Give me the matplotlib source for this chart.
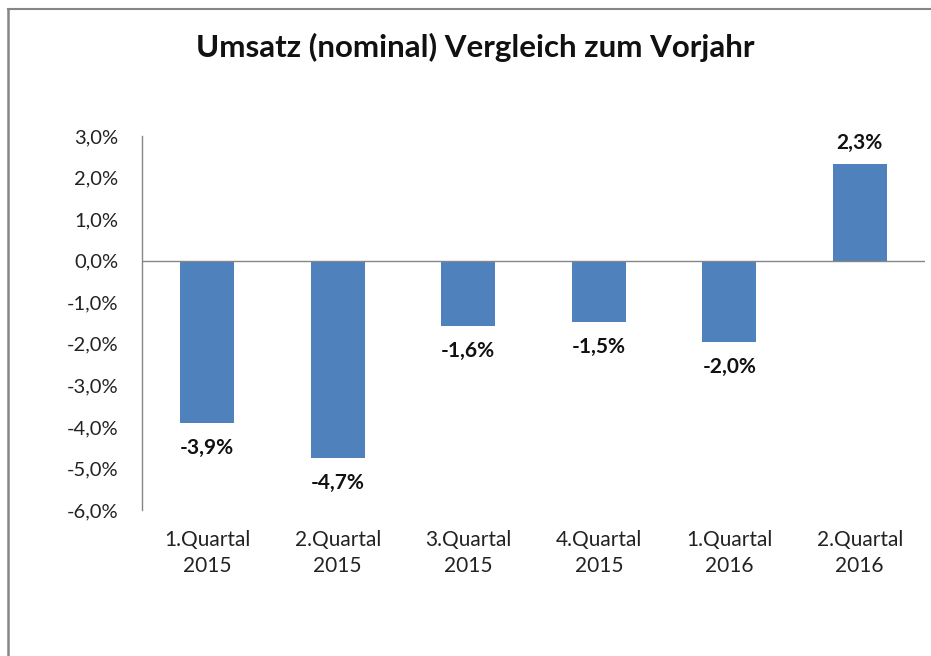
import matplotlib
matplotlib.use("Agg")
import matplotlib.pyplot as plt
from matplotlib.lines import Line2D

plt.rcParams['font.family'] = ['Lato', 'DejaVu Sans']

title = "Umsatz (nominal) Vergleich zum Vorjahr"
categories = ["1.Quartal\n2015", "2.Quartal\n2015", "3.Quartal\n2015",
              "4.Quartal\n2015", "1.Quartal\n2016", "2.Quartal\n2016"]
values = [-3.9, -4.74, -1.58, -1.48, -1.96, 2.32]
yticks = [3, 2, 1, 0, -1, -2, -3, -4, -5, -6]

W, H = 931, 656
fig = plt.figure(figsize=(W / 100, H / 100), dpi=100)
fig.patch.set_facecolor('white')

# outer frame (left + top)
fig.add_artist(Line2D([8 / W, 8 / W], [0, 1 - 9 / H], transform=fig.transFigure,
                      color='#868686', lw=1.8))
fig.add_artist(Line2D([8 / W, 1], [1 - 9 / H, 1 - 9 / H], transform=fig.transFigure,
                      color='#868686', lw=1.5))

left, right, top, bottom = 142, 925, 136, 510
ax = fig.add_axes([left / W, 1 - bottom / H, (right - left) / W, (bottom - top) / H])

x = list(range(len(values)))
ax.bar(x, values, width=0.41, color='#4F81BD', zorder=2)
ax.set_xlim(-0.5, len(values) - 0.5)
ax.set_ylim(-6, 3)
ax.axhline(0, color='#868686', lw=1.0, zorder=3)

for s in ['top', 'right', 'bottom']:
    ax.spines[s].set_visible(False)
ax.spines['left'].set_color('#868686')
ax.spines['left'].set_linewidth(1.0)

ax.set_yticks(yticks)
ax.set_yticklabels([f"{v:.1f}%".replace('.', ',') for v in yticks])
ax.tick_params(axis='y', length=0, pad=17, labelsize=14.5, labelcolor='#222222')
ax.set_xticks(x)
ax.set_xticklabels(categories, linespacing=1.38)
ax.tick_params(axis='x', length=0, pad=14.5, labelsize=15, labelcolor='#222222')

for xi, v in zip(x, values):
    lab = f"{v:.1f}%".replace('.', ',')
    off = 25 if v < 0 else -21
    ax.annotate(lab, (xi, v), xytext=(0, -off * 0.72), textcoords='offset points',
                ha='center', va='center', fontsize=15, fontweight='bold', color='#111111')

fig.text(475 / W, 1 - 47 / H, title, ha='center', va='center',
         fontsize=22.5, fontweight='bold', color='#111111')

fig.savefig('out.png', dpi=100)
